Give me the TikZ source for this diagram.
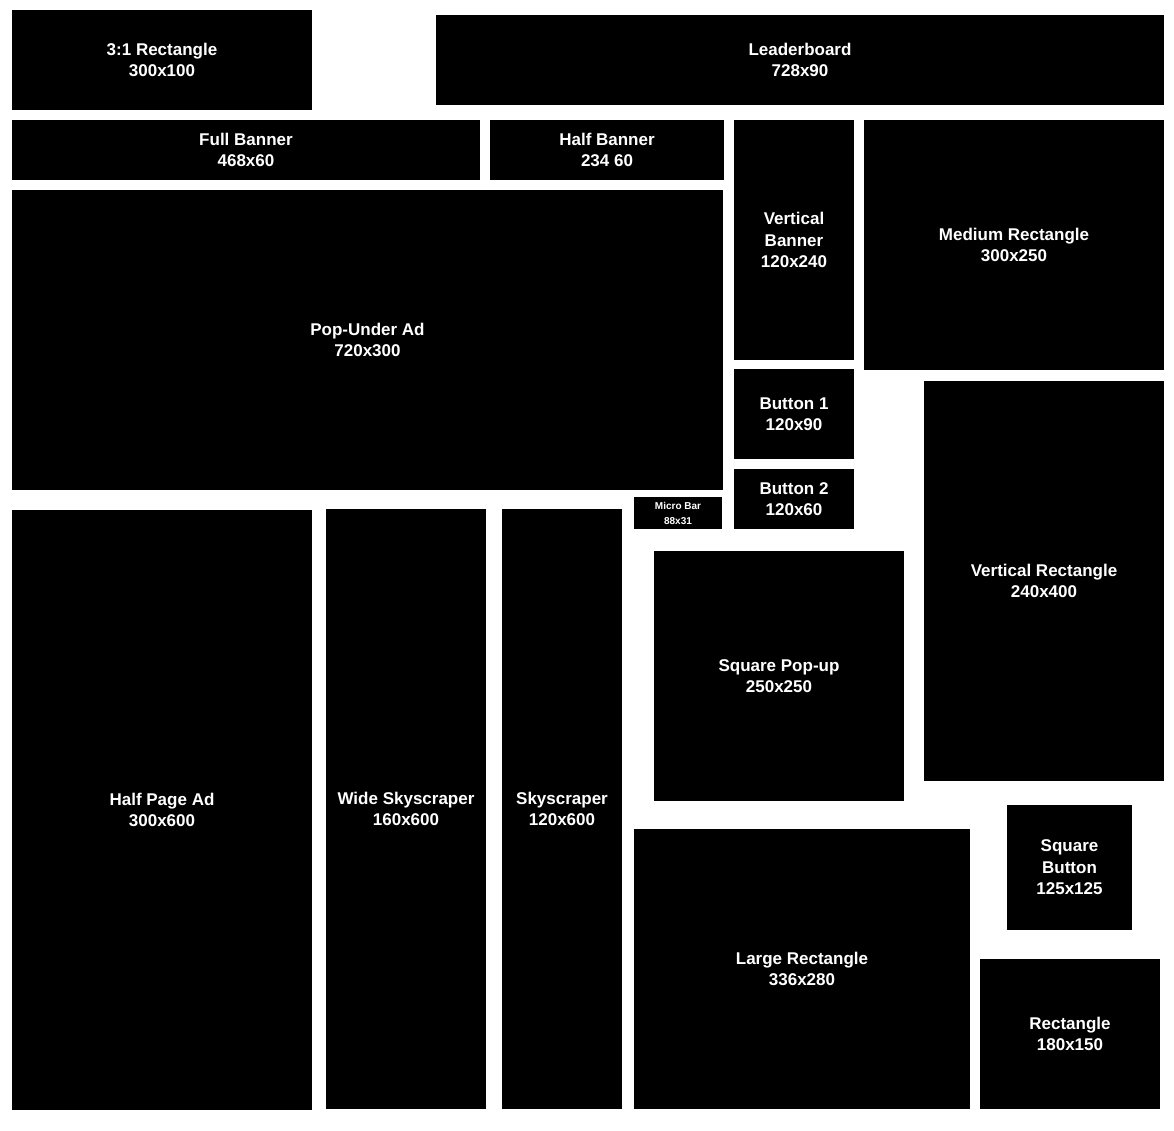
\documentclass[tikz,border=0pt]{standalone}
\usepackage{fontspec}
\setmainfont{Liberation Sans}
\begin{document}
\begin{tikzpicture}[x=1pt,y=-1pt,
  ad/.style={fill=black,draw=none,text=white,align=center,inner sep=0pt,
    font=\bfseries\fontsize{17}{21.5}\selectfont}]
\useasboundingbox[fill=white] (0,0) rectangle (1174,1130);
\newcommand\adbox[6]{\node[ad,minimum width=#4pt-#2pt,minimum height=#5pt-#3pt] (#1) at ({(#2+#4)/2},{(#3+#5)/2}) {#6};}
\adbox{r31}{12}{10}{312}{110}{3:1 Rectangle\\300x100}
\adbox{lead}{436}{15}{1164}{105}{Leaderboard\\728x90}
\adbox{full}{12}{120}{480}{180}{Full Banner\\468x60}
\adbox{half}{490}{120}{724}{180}{Half Banner\\234 60}
\adbox{vban}{734}{120}{854}{360}{Vertical\\Banner\\120x240}
\adbox{med}{864}{120}{1164}{370}{Medium Rectangle\\300x250}
\adbox{pop}{12}{190}{723}{490}{Pop-Under Ad\\720x300}
\adbox{b1}{734}{369}{854}{459}{Button 1\\120x90}
\adbox{b2}{734}{469}{854}{529}{Button 2\\120x60}
\node[ad,minimum width=88pt,minimum height=32pt,font=\bfseries\fontsize{10}{15}\selectfont] (micro) at (678,513) {Micro Bar\\88x31};
\adbox{vrect}{924}{381}{1164}{781}{Vertical Rectangle\\240x400}
\adbox{hp}{12}{510}{312}{1110}{Half Page Ad\\300x600}
\adbox{wsky}{326}{509}{486}{1109}{Wide Skyscraper\\160x600}
\adbox{sky}{502}{509}{622}{1109}{Skyscraper\\120x600}
\adbox{sqp}{654}{551}{904}{801}{Square Pop-up\\250x250}
\adbox{large}{634}{829}{970}{1109}{Large Rectangle\\336x280}
\adbox{sqb}{1007}{805}{1132}{930}{Square\\Button\\125x125}
\adbox{rect}{980}{959}{1160}{1109}{Rectangle\\180x150}
\end{tikzpicture}
\end{document}
